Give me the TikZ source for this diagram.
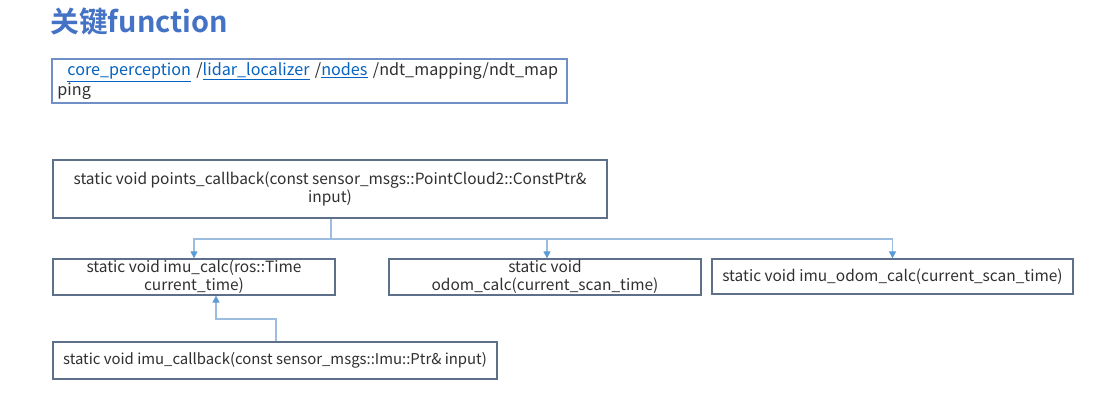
\documentclass[tikz,border=0pt]{standalone}
\usepackage{fontspec}
\setmainfont{Noto Sans CJK SC}
\newfontfamily\titlefont{Noto Sans CJK SC Bold}
\usetikzlibrary{positioning,arrows.meta}
\definecolor{titleblue}{HTML}{4472C4}
\definecolor{linkblue}{HTML}{0563C1}
\definecolor{boxline}{HTML}{5E6F8A}
\definecolor{pathline}{HTML}{6F8FC6}
\definecolor{wire}{HTML}{9DBDE0}
\definecolor{wiretip}{HTML}{5B9BD5}
\definecolor{txt}{HTML}{303030}
\newcommand{\lnk}[1]{\textcolor{linkblue}{\underline{#1}}}
\tikzset{
  fnbox/.style={draw=boxline,line width=0.9pt,inner sep=0pt,align=center,
    text=txt,font=\fontsize{11}{12.8}\selectfont},
  wirearrow/.style={draw=wire,line width=0.8pt,-{Triangle[length=5pt,width=5pt,fill=wiretip,color=wiretip]}}
}
\begin{document}
\begin{tikzpicture}[x=0.025cm,y=-0.025cm]
\useasboundingbox[fill=white] (0,0) rectangle (1099,402);
% title
\node[anchor=west,inner sep=0pt,text=titleblue,font=\titlefont\fontsize{20.5}{22}\selectfont] (title) at (50,22) {关键function};
% source path
\node[draw=pathline,line width=0.9pt,minimum width=12.875cm,minimum height=1.1cm,
  text width=12.6cm,align=left,inner sep=0pt,text=txt,font=\fontsize{11.5}{13}\selectfont] (path) at (309.5,81)
  {\hspace*{0.25cm}\lnk{core\_perception} /\lnk{lidar\_localizer} /\lnk{nodes} /ndt\_mapping/ndt\_map\\ping};
% callbacks and calc functions
\node[fnbox,minimum width=13.85cm,minimum height=1.45cm] (points) at (330,189)
  {static void points\_callback(const sensor\_msgs::PointCloud2::ConstPtr\&\\input)};
\node[fnbox,minimum width=7.05cm,minimum height=0.9cm] (imucalc) at (194,277)
  {static void imu\_calc(ros::Time\\current\_time)};
\node[fnbox,minimum width=7.8cm,minimum height=0.9cm] (odomcalc) at (545,277)
  {static void\\odom\_calc(current\_scan\_time)};
\node[fnbox,minimum width=9.025cm,minimum height=0.875cm] (imuodom) at (892.5,276.5)
  {static void imu\_odom\_calc(current\_scan\_time)};
\node[fnbox,minimum width=11.1cm,minimum height=0.925cm,font=\fontsize{10.6}{12}\selectfont] (imucb) at (275,360.5)
  {static void imu\_callback(const sensor\_msgs::Imu::Ptr\& input)};
% connectors
\coordinate (split) at (331,239);
\draw[draw=wire,line width=0.8pt] (points.south -| split) -- (split);
\draw[wirearrow] (split) -| (imucalc.north);
\draw[wirearrow] (split) -| ([xshift=0.05cm]odomcalc.north);
\draw[wirearrow] (split) -| (imuodom.north);
\coordinate (cbbend) at (276,319);
\draw[wirearrow] (imucb.north -| cbbend) -- (cbbend) -| ([xshift=0.55cm]imucalc.south);
\end{tikzpicture}
\end{document}
